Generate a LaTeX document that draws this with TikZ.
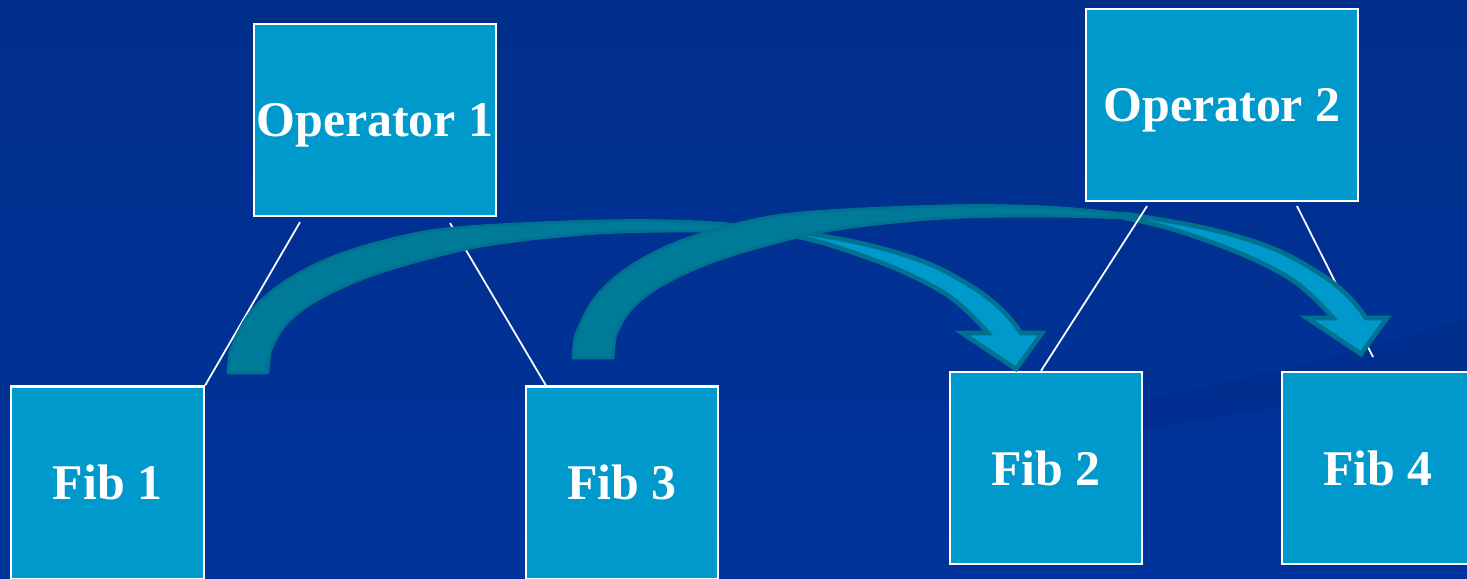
\documentclass[tikz,border=0pt]{standalone}
\usepackage{fontspec}
\setmainfont{Liberation Serif}
\definecolor{bgtop}{RGB}{0,46,138}
\definecolor{bgbottom}{RGB}{0,52,156}
\definecolor{boxblue}{RGB}{0,153,204}
\definecolor{arrowedge}{RGB}{0,114,143}
\definecolor{backteal}{RGB}{0,122,153}
\definecolor{swooshblue}{RGB}{0,40,128}
\begin{document}
\begin{tikzpicture}[x=0.01cm,y=-0.01cm,
  box/.style={draw=white,line width=0.6pt,fill=boxblue,inner sep=0pt,
    text=white,font=\fontsize{14.2}{16}\selectfont\bfseries,text depth=0pt,
    minimum height=1.92cm},
  link/.style={white,line width=0.5pt},
  arrowfront/.style={fill=boxblue,draw=arrowedge,line width=1.3pt,line join=miter},
  arrowbackface/.style={fill=backteal,draw=arrowedge,line width=0.8pt,line join=round},
  bentarrow/.pic={
    % lit front of the ribbon, ending in the arrow head
    \filldraw[arrowfront]
      plot[smooth,tension=0.6] coordinates {(552,-144) (632,-130) (699,-110) (749,-83) (777,-60) (793,-40)}
      -- (814,-40) -- (788,-4) -- (734,-40)
      -- plot[smooth,tension=0.6] coordinates {(760,-40) (740,-61) (713,-82) (664,-106) (599,-129) (552,-140)}
      -- cycle;
    % shaded back of the ribbon, rising from the tail
    \filldraw[arrowbackface]
      plot[smooth,tension=0.6] coordinates {(0,0) (1,-12) (4,-26) (22,-60) (55,-90) (105,-116) (172,-136) (239,-146) (372,-152) (472,-151) (552,-144)}
      -- plot[smooth,tension=0.6] coordinates {(552,-140) (472,-142) (372,-140) (272,-130) (205,-116) (139,-96) (89,-73) (59,-50) (44,-26) (41,-12) (40,0)}
      -- cycle;
  }
]
\useasboundingbox (0,0) rectangle (1467,579);
\clip (0,0) rectangle (1467,579);

% background
\fill[top color=bgtop,bottom color=bgbottom] (0,0) rectangle (1467,579);
\fill[swooshblue,opacity=0.3] (960,440) .. controls (1100,405) and (1250,385) .. (1467,318)
  -- (1467,385) .. controls (1300,400) and (1150,425) .. (960,470) -- cycle;

% boxes
\node[box,minimum width=2.42cm] (op1) at (375,120) {Operator 1};
\node[box,minimum width=2.72cm] (op2) at (1222,105) {Operator 2};
\node[box,minimum width=1.93cm] (fib1) at (107.5,482.5) {Fib 1};
\node[box,minimum width=1.92cm] (fib3) at (622,482.5) {Fib 3};
\node[box,minimum width=1.92cm] (fib2) at (1046,468) {Fib 2};
\node[box,minimum width=1.92cm] (fib4) at (1378,468) {Fib 4};
\coordinate (fib4link) at (1373,357);

% tree links below the arrows
\draw[link] ([shift={(-75,5)}]op1.south) -- (fib1.north east);
\draw[link] ([shift={(75,6)}]op1.south) -- ([shift={(21,0)}]fib3.north west);
\draw[link] ([shift={(75,4)}]op2.south) -- (fib4link);

% curved arrows
\pic at (228,373) {bentarrow};
\pic at (573,358) {bentarrow};

% link drawn over the second arrow
\draw[link] ([shift={(-75,4)}]op2.south) -- ([shift={(-5,0)}]fib2.north);
\end{tikzpicture}
\end{document}
